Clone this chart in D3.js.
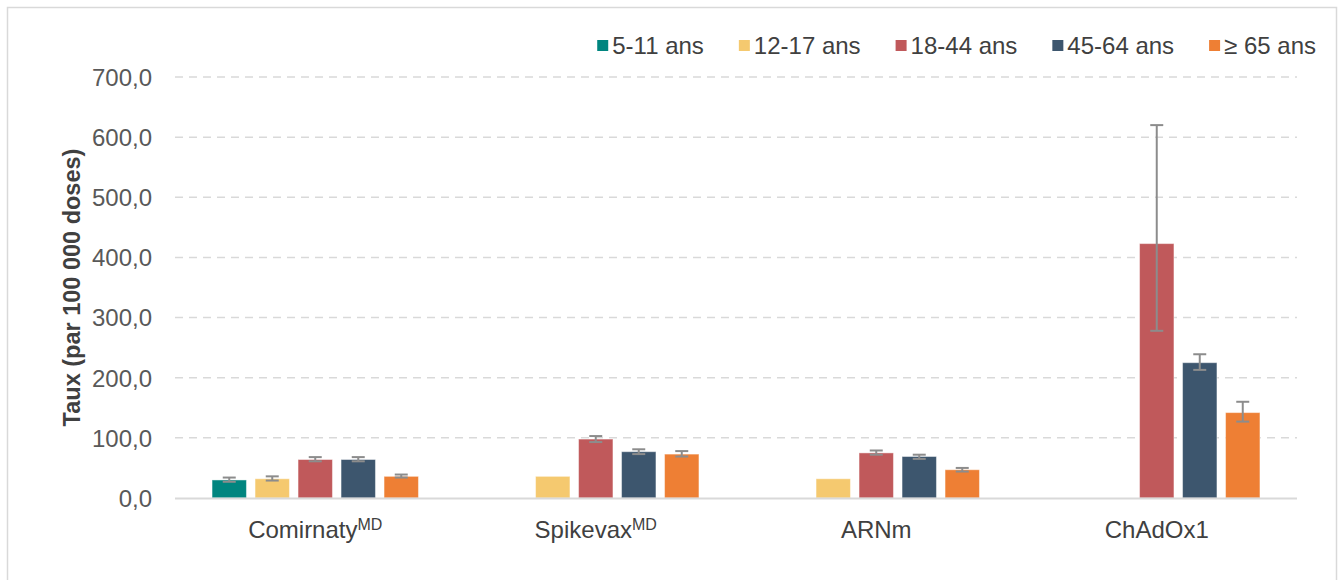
<!DOCTYPE html>
<html><head><meta charset="utf-8">
<script src="https://cdn.jsdelivr.net/npm/d3@7"></script>
<style>
html,body{margin:0;padding:0;background:#fff;}
svg text{font-family:"Liberation Sans",Arial,Helvetica,sans-serif;}
</style></head>
<body><svg id="chart" width="1340" height="580"></svg>
<script>
const categories = ["Comirnaty", "Spikevax", "ARNm", "ChAdOx1"];
const categorySup = ["MD", "MD", "", ""];
const seriesNames = ["5-11 ans", "12-17 ans", "18-44 ans", "45-64 ans", "≥ 65 ans"];
const seriesColors = ["#00857f", "#f5c96f", "#c0595b", "#3d566e", "#ee7f34"];
const v511  = [30, null, null, null];
const v1217 = [32, 36, 32, null];
const v1844 = [64, 98, 75, 423];
const v4564 = [64, 77, 69, 225];
const v65   = [36, 73, 47, 142];
const lo511  = [27, null, null, null];
const hi511  = [34, null, null, null];
const lo1217 = [29, null, null, null];
const hi1217 = [36, null, null, null];
const lo1844 = [61, 93, 72, 278];
const hi1844 = [68, 103, 79, 620];
const lo4564 = [61, 73, 65, 213];
const hi4564 = [68, 81, 72, 239];
const lo65   = [34, 69, 44, 127];
const hi65   = [39, 78, 50, 160];
const yTicks = [0, 100, 200, 300, 400, 500, 600, 700];
const yTitle = "Taux (par 100 000 doses)";

(function () {
const values = [v511, v1217, v1844, v4564, v65];
const lows = [lo511, lo1217, lo1844, lo4564, lo65];
const highs = [hi511, hi1217, hi1844, hi4564, hi65];

const svg = d3.select("#chart");
const pl = 175, pr = 1297, pt = 77, pb = 498;
const fs = 24;

// frame
svg.append("rect").attr("x", 7.5).attr("y", 7.5).attr("width", 1329).attr("height", 600)
  .attr("fill", "none").attr("stroke", "#d9d9d9").attr("stroke-width", 1.5);

const x0 = d3.scaleBand().domain(categories).range([pl, pr]).padding(0);
const inner = 215;
const x1 = d3.scaleBand().domain(seriesNames).range([0, inner]).paddingInner(0.2).paddingOuter(0.1);
const y = d3.scaleLinear().domain([0, 700]).range([pb, pt]);
const fmt = v => d3.format(".1f")(v).replace(".", ",");

// grid
svg.append("g").selectAll("line").data(yTicks.filter(t => t > 0)).join("line")
  .attr("x1", pl).attr("x2", pr).attr("y1", d => y(d)).attr("y2", d => y(d))
  .attr("stroke", "#d9d9d9").attr("stroke-width", 1.5).attr("stroke-dasharray", "8,6");

// y axis labels
const yAxis = d3.axisLeft(y).tickValues(yTicks).tickFormat(fmt).tickSize(0).tickPadding(23);
const gy = svg.append("g").attr("transform", `translate(${pl},0)`).call(yAxis);
gy.select(".domain").remove();
gy.selectAll("text").attr("fill", "#595959").style("font-size", fs + "px")
  .style("font-family", "'Liberation Sans',Arial,sans-serif").attr("dy", "0.35em");

// y title
svg.append("text").attr("transform", `translate(80,${(pt + pb) / 2}) rotate(-90)`)
  .attr("text-anchor", "middle").attr("font-size", "23.5px").attr("font-weight", "bold")
  .attr("fill", "#404040").text(yTitle);

// bars
const groups = svg.append("g").selectAll("g").data(categories).join("g")
  .attr("transform", d => `translate(${x0(d) + (x0.bandwidth() - inner) / 2},0)`);
const off = x1.bandwidth() / 2;
groups.each(function (cat, ci) {
  const g = d3.select(this);
  seriesNames.forEach((s, si) => {
    const v = values[si][ci];
    if (v == null) return;
    g.append("rect").attr("x", x1(s)).attr("width", x1.bandwidth())
      .attr("y", y(v)).attr("height", y(0) - y(v))
      .attr("fill", seriesColors[si]).attr("stroke", "rgba(255,255,255,0.45)").attr("stroke-width", 1);
    const lo = lows[si][ci], hi = highs[si][ci];
    if (lo != null && hi != null) {
      const cx = x1(s) + off;
      const eg = g.append("g").attr("stroke", "#8c8c8c").attr("stroke-width", 2);
      eg.append("line").attr("x1", cx).attr("x2", cx).attr("y1", y(lo)).attr("y2", y(hi));
      eg.append("line").attr("x1", cx - 6.5).attr("x2", cx + 6.5).attr("y1", y(lo)).attr("y2", y(lo));
      eg.append("line").attr("x1", cx - 6.5).attr("x2", cx + 6.5).attr("y1", y(hi)).attr("y2", y(hi));
    }
  });
});

// baseline
svg.append("line").attr("x1", pl).attr("x2", pr).attr("y1", y(0) + 0.5).attr("y2", y(0) + 0.5)
  .attr("stroke", "#d9d9d9").attr("stroke-width", 2);

// x labels
const xl = svg.append("g").selectAll("text").data(categories).join("text")
  .attr("x", d => x0(d) + x0.bandwidth() / 2).attr("y", 538)
  .attr("text-anchor", "middle").attr("font-size", fs + "px").attr("fill", "#404040");
xl.each(function (d, i) {
  const t = d3.select(this);
  t.append("tspan").text(d);
  if (categorySup[i]) t.append("tspan").attr("font-size", "16px").attr("dy", "-8").text(categorySup[i]);
});

// legend (right-aligned, laid out from measured text widths)
const lg = svg.append("g").selectAll("g").data(seriesNames).join("g");
lg.append("rect").attr("x", 0).attr("y", -6).attr("width", 11).attr("height", 11)
  .attr("fill", (d, i) => seriesColors[i]);
lg.append("text").attr("x", 15).attr("y", 0).attr("dy", "0.35em").attr("font-size", fs + "px")
  .attr("fill", "#404040").text(d => d);
const widths = [];
lg.select("text").each(function () { widths.push(15 + this.getComputedTextLength()); });
const gap = 35;
const total = d3.sum(widths) + gap * (widths.length - 1);
let cx = 1316 - total;
lg.each(function (d, i) {
  d3.select(this).attr("transform", `translate(${cx},46)`);
  cx += widths[i] + gap;
});
})();
</script></body></html>
